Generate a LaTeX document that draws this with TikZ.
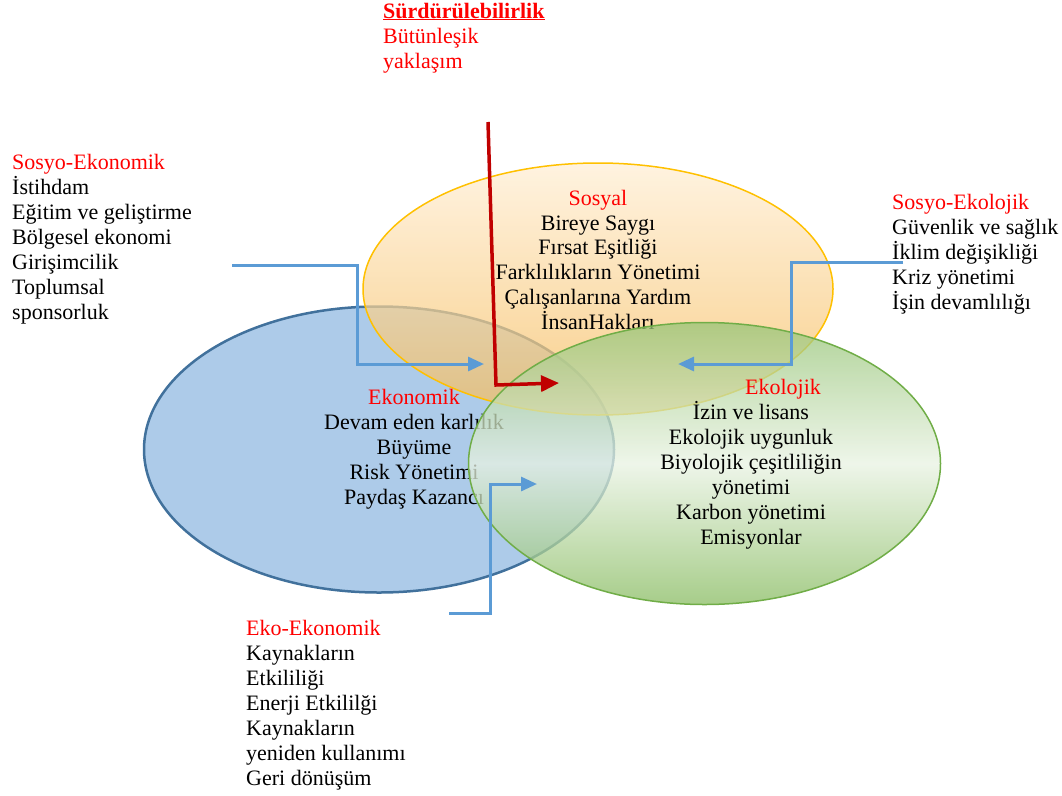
\documentclass[tikz,border=0pt]{standalone}
\usepackage{fontspec}
\setmainfont{Liberation Serif}
\usetikzlibrary{arrows.meta}
\definecolor{ecoblue}{RGB}{173,203,233}
\definecolor{ecoline}{RGB}{65,113,156}
\definecolor{orgtop}{RGB}{255,238,212}
\definecolor{orgbot}{RGB}{245,188,92}
\definecolor{orgline}{RGB}{255,192,0}
\definecolor{grntop}{RGB}{150,196,118}
\definecolor{grnmid}{RGB}{232,242,226}
\definecolor{grnbot}{RGB}{137,188,98}
\definecolor{grnline}{RGB}{112,173,71}
\definecolor{conblue}{RGB}{91,155,213}
\definecolor{conred}{RGB}{192,0,0}
\definecolor{lblred}{RGB}{255,0,0}
\tikzset{
  txt/.style={inner sep=0pt, font=\fontsize{22}{25}\selectfont},
  lblock/.style={txt, align=left, anchor=base west},
  cblock/.style={txt, align=center, anchor=base},
  bluecon/.style={draw=conblue, line width=3pt, -{Triangle[length=16pt,width=14pt]}},
  redcon/.style={draw=conred, line width=3.5pt, -{Triangle[length=18pt,width=16pt]}},
}
\newcommand{\rd}[1]{\textcolor{lblred}{#1}}
\begin{document}
\begin{tikzpicture}[x=1pt,y=-1pt]
\useasboundingbox (0,0) rectangle (1062,795);
% ellipses
\path[fill=ecoblue, draw=ecoline, line width=2.5pt] (379,449.5) ellipse [x radius=235, y radius=143];
\path[draw=orgline, line width=1.5pt, top color=orgtop, bottom color=orgbot, fill opacity=0.72] (598,289) ellipse [x radius=235, y radius=126];
% anchor=base is the baseline of the last line
\node[cblock] (ekon) at (414,504) {\rd{Ekonomik}\\Devam eden karlılık\\Büyüme\\Risk Yönetimi\\Paydaş Kazancı};
\node[cblock, font=\fontsize{22}{24.7}\selectfont] (sosyal) at (598,329) {\rd{Sosyal}\\Bireye Saygı\\Fırsat Eşitliği\\Farklılıkların Yönetimi\\Çalışanlarına Yardım\\İnsanHakları};
\path[draw=grnline, line width=1.5pt, top color=grntop, bottom color=grnbot, middle color=grnmid, fill opacity=0.75] (704.5,463.5) ellipse [x radius=236, y radius=141];
\node[cblock] (ekol) at (751,544) {\hspace*{64pt}\rd{Ekolojik}\\İzin ve lisans\hspace*{42pt}\\Ekolojik uygunluk\\Biyolojik çeşitliliğin\\yönetimi\\Karbon yönetimi\\Emisyonlar};
% outer labels
\node[lblock] (surd) at (383,68) {\rd{\textbf{\underline{Sürdürülebilirlik}}}\\\rd{Bütünleşik}\\\rd{yaklaşım}};
\node[lblock] (soek) at (12,319) {\rd{Sosyo-Ekonomik}\\İstihdam\\Eğitim ve geliştirme\\Bölgesel ekonomi\\Girişimcilik\\Toplumsal\\sponsorluk};
\node[lblock] (soel) at (892,309) {\rd{Sosyo-Ekolojik}\\Güvenlik ve sağlık\\İklim değişikliği\\Kriz yönetimi\\İşin devamlılığı};
\node[lblock] (ekek) at (246,785) {\rd{Eko-Ekonomik}\\Kaynakların\\Etkililiği\\Enerji Etkililği\\Kaynakların\\yeniden kullanımı\\Geri dönüşüm};
% connector ends
\coordinate (c1s) at (232,265);
\coordinate (c1e) at (484,364);
\coordinate (c2s) at (903,262);
\coordinate (c2e) at (678,364);
\coordinate (c3s) at (449,613);
\coordinate (c3e) at (537,484);
\coordinate (rs) at (488,122);
\coordinate (re) at (559,383);
\draw[bluecon] (c1s) -| (357,364) -- (c1e);
\draw[bluecon] (c2s) -| (791,364) -- (c2e);
\draw[bluecon] (c3s) -| (490,484) -- (c3e);
\draw[redcon] (rs) -- (496,385) -- (re);
\end{tikzpicture}
\end{document}
